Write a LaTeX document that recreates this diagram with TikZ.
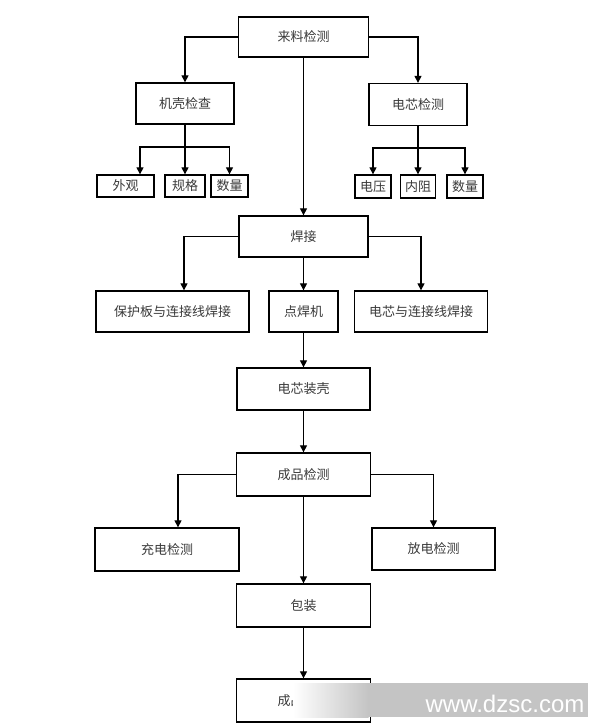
\documentclass[tikz,border=0pt]{standalone}
\usepackage{fontspec}
\setmainfont{Liberation Sans}
\newfontfamily\cjk{Noto Sans CJK SC}
\usetikzlibrary{arrows.meta}
\definecolor{txt}{HTML}{3A3A3A}
\definecolor{bgrey}{HTML}{C4C4C4}
\begin{document}
\begin{tikzpicture}[x=1pt,y=-1pt,
  bx/.style={draw=black, line width=1.3pt, fill=white, inner sep=0pt,
    font=\cjk\fontsize{13}{15}\selectfont, text=txt},
  conn/.style={line width=1.1pt, -{Triangle[length=7pt,width=7pt]}},
  plain/.style={line width=1.1pt}]
\useasboundingbox (0,0) rectangle (600,728);
\fill[white] (0,0) rectangle (600,728);

% row 1
\node[bx, minimum width=130pt, minimum height=40pt] (top) at (303.5,37) {来料检测};
\node[bx, minimum width=98pt, minimum height=41pt] (jk) at (185,103.5) {机壳检查};
\node[bx, minimum width=98pt, minimum height=42pt] (dx) at (418,104.5) {电芯检测};

% sub items
\node[bx, minimum width=57pt, minimum height=22pt] (wg) at (125.5,186) {外观};
\node[bx, minimum width=40pt, minimum height=22pt] (gg) at (185,186) {规格};
\node[bx, minimum width=37pt, minimum height=22pt] (sl) at (229.5,186) {数量};
\node[bx, minimum width=36pt, minimum height=23pt] (dy) at (373,186.5) {电压};
\node[bx, minimum width=35pt, minimum height=23pt] (nz) at (418,186.5) {内阻};
\node[bx, minimum width=36pt, minimum height=23pt] (sl2) at (465,186.5) {数量};

% welding
\node[bx, minimum width=129pt, minimum height=41pt] (hj) at (303.5,236.5) {焊接};
\node[bx, minimum width=153pt, minimum height=41pt] (bhb) at (172.5,311.5) {保护板与连接线焊接};
\node[bx, minimum width=69pt, minimum height=41pt] (dhj) at (303.5,311.5) {点焊机};
\node[bx, minimum width=133pt, minimum height=41pt] (dxl) at (421,311.5) {电芯与连接线焊接};

\node[bx, minimum width=133pt, minimum height=42pt] (zk) at (303.5,389) {电芯装壳};
\node[bx, minimum width=134pt, minimum height=43pt] (cp) at (303.5,474.5) {成品检测};
\node[bx, minimum width=144pt, minimum height=43pt] (cd) at (167,549.5) {充电检测};
\node[bx, minimum width=123pt, minimum height=42pt] (fd) at (433.5,549) {放电检测};
\node[bx, minimum width=134pt, minimum height=43pt] (bz) at (303.5,605.5) {包装};
\node[bx, minimum width=134pt, minimum height=43pt] (end) at (303.5,700.5) {成品\hphantom{入库}};

% connectors
\draw[conn] (top.west) -| (jk.north);
\draw[conn] (top.east) -| (dx.north);
\draw[conn] (top.south) -- (hj.north);

\coordinate (bj) at (185,147);
\draw[plain] (jk.south) -- (bj);
\draw[conn] (bj) -| ([xshift=14.5pt]wg.north);
\draw[conn] (bj) -- (gg.north);
\draw[conn] (bj) -| (sl.north);

\coordinate (bd) at (418,148);
\draw[plain] (dx.south) -- (bd);
\draw[conn] (bd) -| (dy.north);
\draw[conn] (bd) -- (nz.north);
\draw[conn] (bd) -| (sl2.north);

\draw[conn] (hj.west) -| ([xshift=11.5pt]bhb.north);
\draw[conn] (hj.south) -- (dhj.north);
\draw[conn] (hj.east) -| (dxl.north);
\draw[conn] (dhj.south) -- (zk.north);
\draw[conn] (zk.south) -- (cp.north);
\draw[conn] (cp.west) -| ([xshift=11pt]cd.north);
\draw[conn] (cp.east) -| (fd.north);
\draw[conn] (cp.south) -- (bz.north);
\draw[conn] (bz.south) -- (end.north);

% watermark banner
\shade[left color=white, right color=bgrey] (293,683) rectangle (368.5,717);
\fill[bgrey] (368,683) rectangle (588,717);
\node[font=\fontsize{24}{24}\selectfont, text=white, anchor=base, inner sep=0pt] (wm) at (505,712) {www.dzsc.com};
\end{tikzpicture}
\end{document}
